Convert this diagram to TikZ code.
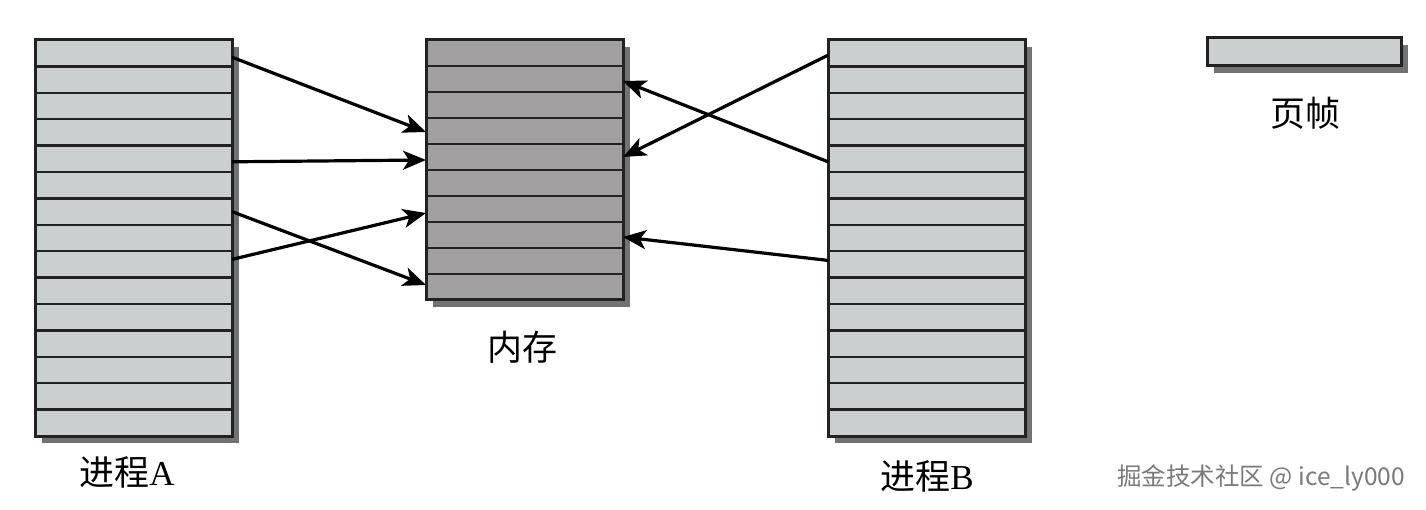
\documentclass[tikz,border=0pt]{standalone}
\usepackage{fontspec}
\setmainfont{Liberation Serif}
\newfontfamily\cjk{Noto Sans CJK SC}
\usetikzlibrary{arrows.meta}
\definecolor{lightfill}{HTML}{CBCFD0}
\definecolor{memfill}{HTML}{A19FA0}
\definecolor{shadowc}{HTML}{727272}
\definecolor{edgec}{HTML}{222222}
\definecolor{wmc}{HTML}{7A7A7A}
\begin{document}
\begin{tikzpicture}[x=1pt,y=-1pt,
  rowbox/.style={rectangle, draw=edgec, line width=2.3pt, minimum width=197pt, inner sep=0pt, outer sep=0pt},
  prow/.style={rowbox, fill=lightfill, minimum height=26.4pt},
  mrow/.style={rowbox, fill=memfill, minimum height=26pt},
  frame/.style={draw=edgec, line width=3pt},
  shadowbox/.style={fill=shadowc},
  conn/.style={line width=3.2pt, draw=black, -{Stealth[length=23pt,width=19pt,inset=6pt]}},
  lbl/.style={inner sep=0pt, font=\fontsize{35}{40}\selectfont},
  wm/.style={inner sep=0pt, text=wmc, font=\cjk\fontsize{24.5}{29}\selectfont}
]
\useasboundingbox[fill=white] (0,0) rectangle (1426,510);
% shadows
\fill[shadowbox] (42,47) rectangle (239,443);
\fill[shadowbox] (433,47) rectangle (630,307);
\fill[shadowbox] (835,47) rectangle (1032,443);
\fill[shadowbox] (1214,45) rectangle (1408,73);
% process A
\foreach \i in {1,...,15} \node[prow] (A\i) at (133.5,{40+26.4*(\i-0.5)}) {};
\draw[frame] (A1.north west) rectangle (A15.south east);
% memory
\foreach \i in {1,...,10} \node[mrow] (M\i) at (524.5,{40+26*(\i-0.5)}) {};
\draw[frame] (M1.north west) rectangle (M10.south east);
% process B
\foreach \i in {1,...,15} \node[prow] (B\i) at (926.5,{40+26.4*(\i-0.5)}) {};
\draw[frame] (B1.north west) rectangle (B15.south east);
% page frame
\node[prow, frame, minimum width=194pt, minimum height=28pt] (page) at (1304,52) {};
% labels
\node[lbl] (labA) at (127,472) {{\cjk 进程}A};
\node[lbl] (labM) at (522,347) {\cjk 内存};
\node[lbl] (labB) at (927,476) {{\cjk 进程}B};
\node[lbl] (labP) at (1305,113) {\cjk 页帧};
\node[wm] (wmark) at (1261,478) {掘金技术社区 @ ice\_ly000};
% connectors A -> memory
\draw[conn] ([yshift=-4pt]A1.east) -- ([yshift=-1pt]M4.west);
\draw[conn] ([yshift=-3pt]A5.east) -- ([yshift=-3pt]M5.west);
\draw[conn] (A7.east) -- ([yshift=2pt]M10.west);
\draw[conn] ([yshift=5pt]A9.east) -- ([yshift=-4pt]M7.west);
% connectors B -> memory
\draw[conn] ([yshift=-2pt]B1.west) -- (M5.east);
\draw[conn] ([yshift=-3pt]B5.west) -- ([yshift=-2pt]M2.east);
\draw[conn] ([yshift=4pt]B9.west) -- ([yshift=-2pt]M8.east);
\end{tikzpicture}
\end{document}
